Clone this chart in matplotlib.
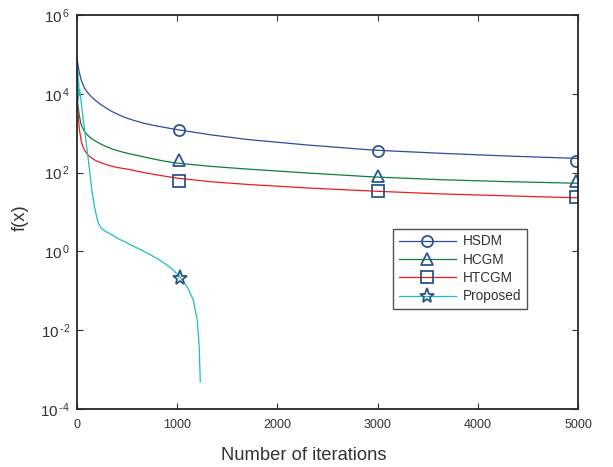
import numpy as np
import matplotlib
matplotlib.use('Agg')
import matplotlib.pyplot as plt

plt.rcParams['font.family'] = ['Liberation Sans', 'DejaVu Sans']
plt.rcParams['mathtext.fontset'] = 'custom'
plt.rcParams['mathtext.rm'] = 'Liberation Sans'
plt.rcParams['mathtext.it'] = 'Liberation Sans:italic'

# ---------------- datos (log10 f(x)) ---------------- #
hsdm_it = [0, 8, 20, 42, 75, 110, 141, 190, 241, 290, 341, 390, 441, 500, 574, 670,
           800, 1000, 1330, 1700, 2300, 2960, 3630, 4300, 5000]
hsdm_log = [4.91, 4.77, 4.58, 4.35, 4.14, 4.02, 3.93, 3.82, 3.72, 3.64, 3.56, 3.50,
            3.44, 3.38, 3.32, 3.25, 3.18, 3.09, 2.96, 2.84, 2.70, 2.57, 2.49, 2.42, 2.36]

hcgm_it = [0, 10, 25, 42, 75, 110, 141, 190, 241, 300, 374, 470, 574, 700, 850,
           1000, 1330, 1700, 2300, 2960, 3630, 4300, 5000]
hcgm_log = [4.0, 3.7, 3.42, 3.21, 3.04, 2.94, 2.87, 2.79, 2.72, 2.65, 2.58, 2.51,
            2.45, 2.38, 2.30, 2.24, 2.16, 2.09, 1.99, 1.89, 1.82, 1.77, 1.73]

htcgm_it = [0, 8, 15, 25, 35, 45, 58, 80, 108, 140, 175, 240, 308, 400, 500, 574,
            670, 800, 1000, 1330, 1700, 2300, 2960, 3630, 4300, 5000]
htcgm_log = [3.84, 3.58, 3.34, 3.08, 2.91, 2.77, 2.66, 2.55, 2.45, 2.38, 2.32, 2.25,
             2.19, 2.13, 2.09, 2.05, 2.0, 1.94, 1.86, 1.77, 1.70, 1.61, 1.53, 1.46,
             1.41, 1.36]

prop_it = [0, 4, 8, 12, 16, 20, 28, 35, 60, 90, 125, 148, 175, 208, 241, 270, 291,
           350, 407, 480, 574, 700, 800, 880, 960, 1030, 1100, 1160, 1200, 1220, 1230]
prop_log = [4.86, 3.9, 4.6, 3.85, 4.3, 3.95, 4.1, 3.93, 3.4, 2.8, 2.07, 1.56, 1.13,
            0.75, 0.59, 0.53, 0.50, 0.42, 0.33, 0.24, 0.12, -0.04, -0.18, -0.31,
            -0.47, -0.66, -0.90, -1.23, -1.74, -2.43, -3.31]

# marcadores
mk_it = [1020, 3000, 4980]
hsdm_mk = [3.08, 2.55, 2.29]
hcgm_mk = [2.32, 1.91, 1.79]
htcgm_mk = [1.79, 1.53, 1.38]
prop_mk_it = [1030]
prop_mk = [-0.68]

series = [
    ('HSDM', hsdm_it, hsdm_log, mk_it, hsdm_mk, '#2e4ca0', 'o'),
    ('HCGM', hcgm_it, hcgm_log, mk_it, hcgm_mk, '#0e7e3a', '^'),
    ('HTCGM', htcgm_it, htcgm_log, mk_it, htcgm_mk, '#f01c1c', 's'),
    ('Proposed', prop_it, prop_log, prop_mk_it, prop_mk, '#1cc0c0', '*'),
]
mk_color = '#2c5590'

fig = plt.figure(figsize=(6.13, 4.67), dpi=100)
ax = fig.add_axes([0.1256, 0.124, 0.8174, 0.844])

handles = []
for nombre, xs, ys, mx, my, col, m in series:
    ax.plot(xs, 10 ** np.array(ys), color=col, lw=0.9)
    ax.plot(mx, 10 ** np.array(my), ls='none', marker=m, mfc='none', mec=mk_color,
            mew=1.3, ms=11 if m == '*' else 8)
    h, = ax.plot([], [], color=col, lw=0.9, marker=m, mfc='none', mec=mk_color,
                 mew=1.3, ms=11 if m == '*' else 8)
    handles.append(h)

ax.set_yscale('log')
ax.set_xlim(0, 5000)
ax.set_ylim(1e-4, 1e6)
ax.set_xticks([0, 1000, 2000, 3000, 4000, 5000])
ax.set_yticks([1e-4, 1e-2, 1e0, 1e2, 1e4, 1e6])
ax.set_yticklabels(['$10^{\\,\\text{-}4}$', '$10^{\\,\\text{-}2}$', '$10^{\\,0}$',
                    '$10^{\\,2}$', '$10^{\\,4}$', '$10^{\\,6}$'])
ax.yaxis.set_minor_locator(matplotlib.ticker.NullLocator())
ax.tick_params(axis='x', labelsize=9)
ax.tick_params(axis='y', labelsize=11, pad=5)
ax.tick_params(direction='in', top=True, right=True, length=4, width=0.8,
               colors='#333333')
ax.tick_params(axis='x', pad=7)
for s in ax.spines.values():
    s.set_linewidth(1.3)
    s.set_color('#262626')

ax.set_xlabel('Number of iterations', fontsize=13.2, color='#333333', labelpad=10)
ax.xaxis.set_label_coords(0.453, -0.095)
ax.set_ylabel('f(x)', fontsize=13.2, color='#333333')
ax.yaxis.set_label_coords(-0.097, 0.485)

leg = ax.legend(handles, [s[0] for s in series], loc='upper left',
                bbox_to_anchor=(0.631, 0.457), fontsize=9.8, frameon=True,
                fancybox=False, edgecolor='#262626', handlelength=4.2,
                borderpad=0.4, labelspacing=0.32, handletextpad=0.55,
                borderaxespad=0)
leg.get_frame().set_linewidth(1.0)
for t in leg.get_texts():
    t.set_color('#333333')

plt.savefig('out.png', dpi=100)
